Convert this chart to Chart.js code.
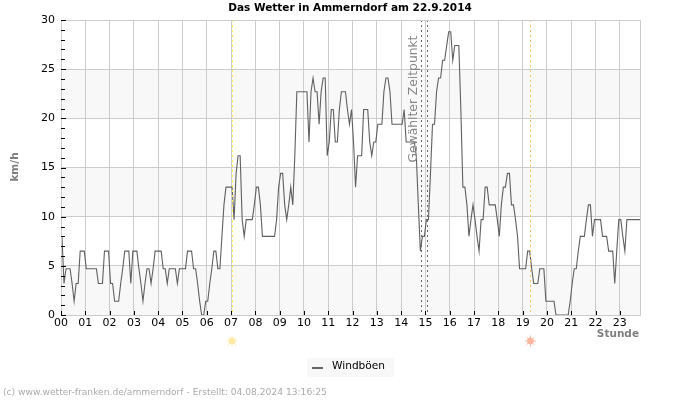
<!DOCTYPE html>
<html>
<head>
<meta charset="utf-8">
<title>Das Wetter in Ammerndorf</title>
<script src="https://cdn.jsdelivr.net/npm/chart.js@4"></script>
<style>
body { margin: 0; background: #fff; }
</style>
</head>
<body>
<canvas id="wetter" width="700" height="400"></canvas>
<script>
// hour labels on the x axis
const hourLabels = ['00','01','02','03','04','05','06','07','08','09','10','11',
    '12','13','14','15','16','17','18','19','20','21','22','23'];

// gusts in km/h, one reading every 5 minutes, one row per hour
const windboeen = [
    8,3.2,4.7,4.7,4.7,3.2,1.4,3.2,3.2,6.5,6.5,6.5,
    4.7,4.7,4.7,4.7,4.7,4.7,3.2,3.2,3.2,6.5,6.5,6.5,
    3.2,3.2,1.4,1.4,1.4,3.2,4.7,6.5,6.5,6.5,3.2,6.5,
    6.5,6.5,4.7,3.2,1.4,3.2,4.7,4.7,3.2,4.7,6.5,6.5,
    6.5,6.5,4.7,4.7,3.2,4.7,4.7,4.7,4.7,3.2,4.7,4.7,
    4.7,4.7,6.5,6.5,6.5,4.7,4.7,3.2,1.4,0,0,1.4,
    1.4,3.2,4.7,6.5,6.5,4.7,4.7,8,11.2,13,13,13,
    13,9.7,14.4,16.2,16.2,9.7,8,9.7,9.7,9.7,9.7,11.2,
    13,13,11.2,8,8,8,8,8,8,8,9.7,13,
    14.4,14.4,11.2,9.7,11.2,13,11.2,16.2,22.7,22.7,22.7,22.7,
    22.7,22.7,17.6,22.7,24.1,22.7,22.7,19.4,22.7,24.1,24.1,16.2,
    17.6,20.9,20.9,17.6,17.6,20.9,22.7,22.7,22.7,20.9,19.4,20.9,
    17.6,13,16.2,16.2,16.2,20.9,20.9,20.9,17.6,16.2,17.6,17.6,
    19.4,19.4,19.4,22.7,24.1,24.1,22.7,19.4,19.4,19.4,19.4,19.4,
    19.4,20.9,17.6,17.6,17.6,17.6,17.6,16.2,11.2,6.5,8,8,
    9.7,9.7,14.4,19.4,19.4,22.7,24.1,24.1,25.9,25.9,27.4,28.8,
    28.8,25.9,27.4,27.4,27.4,20.9,13,13,11.2,8,9.7,11.2,
    9.7,8,6.5,9.7,9.7,13,13,11.2,11.2,11.2,11.2,9.7,
    8,11.2,13,13,14.4,14.4,11.2,11.2,9.7,8,4.7,4.7,
    4.7,4.7,6.5,6.5,4.7,3.2,3.2,3.2,4.7,4.7,4.7,1.4,
    1.4,1.4,1.4,1.4,0,0,0,0,0,0,0,1.4,
    3.2,4.7,4.7,6.5,8,8,8,9.7,11.2,11.2,8,9.7,
    9.7,9.7,9.7,8,8,8,6.5,6.5,6.5,3.2,6.5,9.7,
    9.7,8,6.5,9.7,9.7,9.7,9.7,9.7,9.7,9.7,9.7
];

const sunrise = 7.04;
const sunset = 19.32;
const selectedTime = [14.82, 15.07];
const lastHour = 23.83;

const points = windboeen.map(function(v, i) {
    return { x: i / 12 + 0.04, y: v };
});

// alternating bands, frame, inner ticks, marker lines and the loose texts
const decoration = {
    id: 'decoration',
    beforeDraw: function(chart) {
        const c = chart.ctx, a = chart.chartArea, y = chart.scales.y;
        c.save();
        c.fillStyle = '#f8f8f8';
        [[0, 5], [10, 15], [20, 25]].forEach(function(b) {
            const top = y.getPixelForValue(b[1]);
            c.fillRect(a.left, top, a.right - a.left, y.getPixelForValue(b[0]) - top);
        });
        c.restore();
    },
    afterDatasetsDraw: function(chart) {
        const c = chart.ctx, a = chart.chartArea, x = chart.scales.x, y = chart.scales.y;
        c.save();

        // dotted lines
        c.lineWidth = 1;
        c.setLineDash([2, 3]);
        function vline(hour, color) {
            const px = Math.round(x.getPixelForValue(hour)) + 0.5;
            c.strokeStyle = color;
            c.beginPath();
            c.moveTo(px, a.top);
            c.lineTo(px, a.bottom);
            c.stroke();
        }
        vline(sunrise, '#fff04d');
        vline(sunset, '#ffc266');
        vline(selectedTime[0], '#666666');
        vline(selectedTime[1], '#666666');
        c.setLineDash([]);

        // frame, the zero line stays on top of the data
        c.strokeStyle = '#cccccc';
        c.strokeRect(a.left + 0.5, a.top + 0.5, a.right - a.left, a.bottom - a.top);

        // black ticks pointing into the plot
        c.strokeStyle = '#000';
        c.beginPath();
        for (let v = 0; v <= 30; v++) {
            const py = Math.round(y.getPixelForValue(v)) + 0.5;
            c.moveTo(a.left, py);
            c.lineTo(a.left + (v % 5 === 0 ? 5 : 4), py);
        }
        hourLabels.forEach(function(h, i) {
            const px = Math.round(x.getPixelForValue(i)) + 0.5;
            c.moveTo(px, a.bottom);
            c.lineTo(px, a.bottom - 4);
        });
        c.stroke();

        // selected time label
        c.save();
        c.translate(413.5, 99);
        c.rotate(-Math.PI / 2);
        c.font = '12.3px "DejaVu Sans"';
        c.fillStyle = '#888888';
        c.textAlign = 'center';
        c.textBaseline = 'middle';
        c.fillText('Gewählter Zeitpunkt', 0, 0);
        c.restore();
        c.restore();
    },
    afterDraw: function(chart) {
        const c = chart.ctx, x = chart.scales.x;
        c.save();

        function sun(hour, color) {
            const px = x.getPixelForValue(hour), py = 341;
            c.fillStyle = color;
            c.strokeStyle = color;
            c.beginPath();
            c.arc(px, py, 3.3, 0, Math.PI * 2);
            c.fill();
            c.beginPath();
            for (let k = 0; k < 8; k++) {
                const t = k * Math.PI / 4;
                c.moveTo(px + Math.cos(t) * 3, py + Math.sin(t) * 3);
                c.lineTo(px + Math.cos(t) * 5.5, py + Math.sin(t) * 5.5);
            }
            c.stroke();
        }
        sun(sunrise, '#ffe9a6');
        sun(sunset, '#ffb59e');

        c.textBaseline = 'middle';

        c.font = 'bold 10.5px "DejaVu Sans"';
        c.fillStyle = '#000';
        c.textAlign = 'center';
        c.fillText('Das Wetter in Ammerndorf am 22.9.2014', 350, 8);

        c.fillStyle = '#808080';
        c.textAlign = 'right';
        c.fillText('Stunde', 639, 334);

        c.save();
        c.translate(15, 167);
        c.rotate(-Math.PI / 2);
        c.textAlign = 'center';
        c.fillText('km/h', 0, 0);
        c.restore();

        // legend
        c.fillStyle = '#f8f8f8';
        c.fillRect(307, 358, 87, 19);
        c.fillStyle = '#666666';
        c.fillRect(312, 367, 11, 2);
        c.font = '10.6px "DejaVu Sans"';
        c.fillStyle = '#000';
        c.textAlign = 'left';
        c.fillText(chart.data.datasets[0].label, 332, 366);

        c.font = '9.15px "DejaVu Sans"';
        c.fillStyle = '#aaaaaa';
        c.fillText('(c) www.wetter-franken.de/ammerndorf - Erstellt: 04.08.2024 13:16:25', 3, 393);
        c.restore();
    }
};

new Chart(document.getElementById('wetter'), {
    type: 'line',
    data: {
        datasets: [{
            label: 'Windböen',
            data: points,
            borderColor: '#606060',
            borderWidth: 1.1,
            pointRadius: 0,
            tension: 0
        }]
    },
    plugins: [decoration],
    options: {
        responsive: false,
        animation: false,
        layout: { padding: { top: 20, right: 60 } },
        plugins: {
            legend: { display: false },
            title: { display: false },
            tooltip: { enabled: false }
        },
        scales: {
            x: {
                type: 'linear',
                min: 0,
                max: lastHour,
                afterFit: function(s) { s.height = 85; },
                afterBuildTicks: function(s) {
                    s.ticks = hourLabels.map(function(h, i) { return { value: i }; });
                },
                ticks: {
                    autoSkip: false,
                    maxRotation: 0,
                    padding: 2,
                    color: '#000',
                    font: { family: 'DejaVu Sans', size: 11 },
                    callback: function(v) { return hourLabels[v]; }
                },
                grid: { color: '#cccccc', drawTicks: false },
                border: { display: false }
            },
            y: {
                min: 0,
                max: 30,
                afterFit: function(s) { s.width = 61; },
                ticks: {
                    stepSize: 1,
                    autoSkip: false,
                    padding: 6,
                    color: '#000',
                    font: { family: 'DejaVu Sans', size: 11 },
                    callback: function(v) { return v % 5 === 0 ? v : ''; }
                },
                grid: {
                    drawTicks: false,
                    color: function(ctx) {
                        return ctx.tick && ctx.tick.value % 5 === 0 ? '#cccccc' : 'rgba(0,0,0,0)';
                    }
                },
                border: { display: false }
            }
        }
    }
});
</script>
</body>
</html>
